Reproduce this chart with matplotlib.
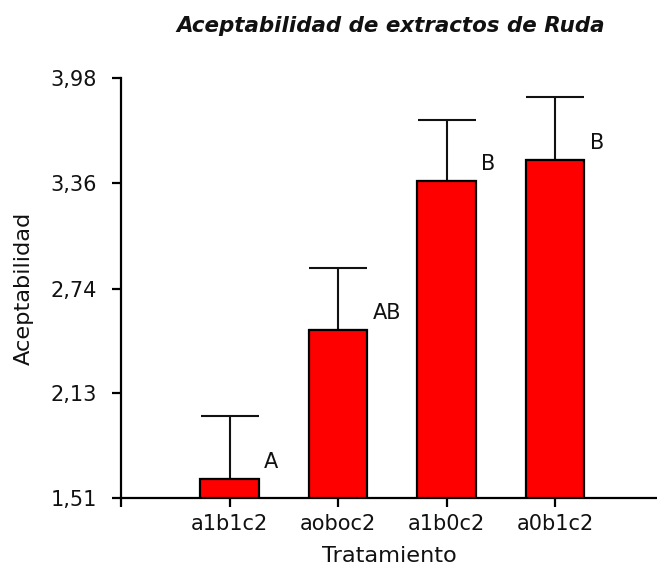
import matplotlib
matplotlib.use("Agg")
import matplotlib.pyplot as plt

plt.rcParams['font.family'] = ['DejaVu Sans']

categories = ["a1b1c2", "aoboc2", "a1b0c2", "a0b1c2"]
means = [1.62, 2.50, 3.375, 3.50]
err_upper = [0.375, 0.365, 0.36, 0.37]
letters = ["A", "AB", "B", "B"]
yticks = [1.51, 2.13, 2.74, 3.36, 3.98]
ytick_labels = ["1,51", "2,13", "2,74", "3,36", "3,98"]

W, H = 657, 569
fig = plt.figure(figsize=(W / 100, H / 100), dpi=100)
ax = fig.add_axes([121 / W, 1 - 498 / H, 1 - 121 / W, (498 - 78) / H])

x = [1, 2, 3, 4]
bw = 0.535
base = yticks[0]
heights = [m - base for m in means]
ax.bar(x, heights, bottom=base, width=bw, color="#ff0000", edgecolor="black",
       linewidth=1.6, zorder=3)
ax.errorbar(x, means, yerr=[[0] * 4, err_upper], fmt="none", ecolor="#111111",
            elinewidth=1.5, capsize=21, capthick=1.5, zorder=2)

for xi, m, lab in zip(x, means, letters):
    ax.annotate(lab, xy=(xi + bw / 2, m), xytext=(4, 5), textcoords="offset points",
                ha="left", va="bottom", fontsize=15, color="#111111")

ax.set_xlim(0, 4.94)
ax.set_ylim(yticks[0], yticks[-1])
ax.set_yticks(yticks)
ax.set_yticklabels(ytick_labels)
ax.set_xticks([0] + x)
ax.set_xticklabels([""] + categories)

for s in ["top", "right"]:
    ax.spines[s].set_visible(False)
for s in ["left", "bottom"]:
    ax.spines[s].set_linewidth(1.6)
    ax.spines[s].set_color("black")
    ax.spines[s].set_clip_on(False)

ax.tick_params(axis="both", direction="out", length=6.5, width=1.6, colors="black",
               labelsize=15, labelcolor="#111111")
ax.tick_params(axis="y", pad=11)
ax.tick_params(axis="x", pad=5)

ax.set_xlabel("Tratamiento", fontsize=16.2, color="#111111", labelpad=9)
ax.set_ylabel("Aceptabilidad", fontsize=16.2, color="#111111", labelpad=12)
fig.text(0.594, 1 - 26 / H, "Aceptabilidad de extractos de Ruda", ha="center",
         va="center", fontsize=15.4, fontweight="bold", fontstyle="italic",
         color="#111111")

fig.savefig("out.png", dpi=100)
